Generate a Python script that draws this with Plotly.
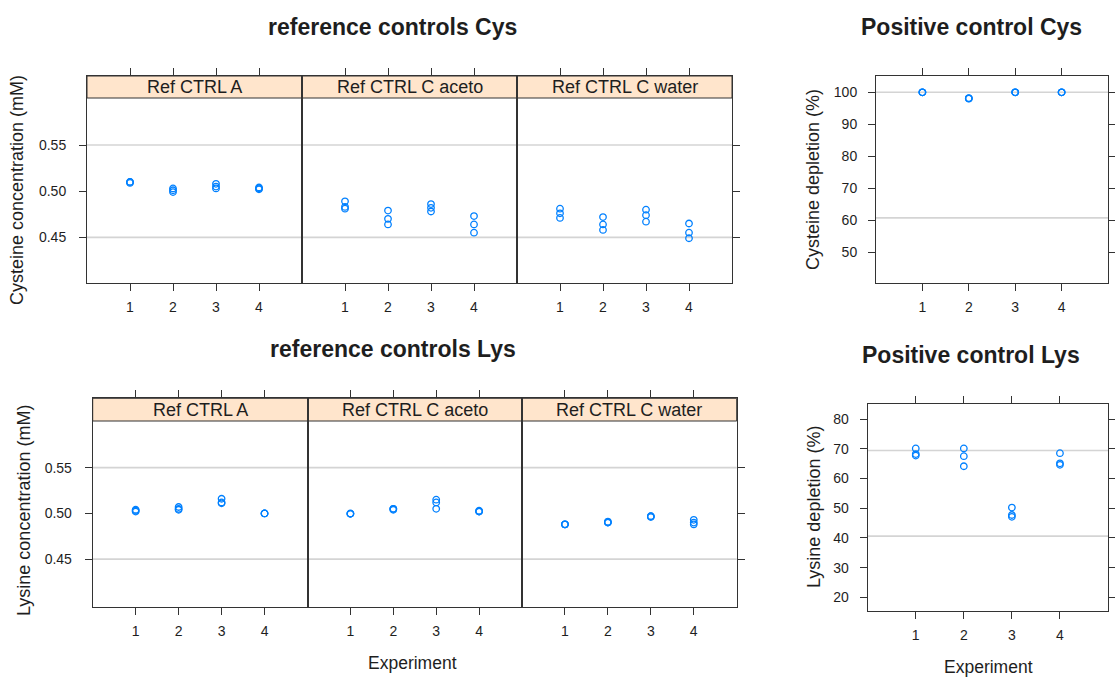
import plotly.graph_objects as go

W, H = 1115, 677

# ---------------- data ----------------
experiments = [1, 1, 1, 2, 2, 2, 3, 3, 3, 4, 4, 4]
exp_ticks = [1, 2, 3, 4]
strip_labels = ["Ref CTRL A", "Ref CTRL C aceto", "Ref CTRL C water"]

cys_ref_a = [0.510, 0.509, 0.510, 0.503, 0.501, 0.499, 0.508, 0.505, 0.503, 0.504, 0.502, 0.503]
cys_ref_aceto = [0.489, 0.483, 0.481, 0.479, 0.470, 0.464, 0.486, 0.482, 0.478, 0.473, 0.464, 0.455]
cys_ref_water = [0.481, 0.476, 0.471, 0.472, 0.464, 0.458, 0.480, 0.474, 0.467, 0.465, 0.455, 0.449]

lys_ref_a = [0.504, 0.502, 0.503, 0.507, 0.505, 0.504, 0.516, 0.512, 0.511, 0.500, 0.500, 0.500]
lys_ref_aceto = [0.4995, 0.4995, 0.500, 0.505, 0.504, 0.505, 0.515, 0.512, 0.505, 0.502, 0.502, 0.503]
lys_ref_water = [0.488, 0.488, 0.488, 0.490, 0.491, 0.490, 0.497, 0.496, 0.497, 0.493, 0.490, 0.488]

cys_pos = [100.0, 100.0, 100.0, 98.2, 98.0, 98.1, 100.0, 100.0, 100.0, 100.0, 100.0, 100.0]
lys_pos = [70.1, 68.2, 67.7, 70.1, 67.5, 64.1, 50.2, 47.7, 47.1, 68.5, 65.1, 64.6]

conc_ticks = [0.45, 0.50, 0.55]
conc_tick_text = ["0.45", "0.50", "0.55"]
cys_dep_ticks = [50, 60, 70, 80, 90, 100]
lys_dep_ticks = [20, 30, 40, 50, 60, 70, 80]

conc_limits = [0.45, 0.55]
cys_pos_limits = [60.7, 100]
lys_pos_limits = [40.6, 69.4]

# ---------------- style ----------------
FONT = "Liberation Sans, Arial, sans-serif"
TXT = "#1e1e1e"
LINE = "#333333"
POINT = "#0080ff"
STRIP = "#ffe5cc"
REF = "#d4d4d4"
TICKSIZE = 14

fig = go.Figure()
layout_axes = {}
shapes = []
annotations = []
counter = [0]


def px_x(v):
    return v / W


def px_y(v):
    return 1 - v / H


def add_panel(x0, x1, y0, y1, values, yrange, yticks, yticktext, yside,
              ref_lines, strip=None, strip_h=0):
    counter[0] += 1
    i = counter[0]
    sfx = "" if i == 1 else str(i)
    lo, hi = yrange
    hi_ext = hi + (hi - lo) * strip_h / (y1 - y0)
    top = y0 - strip_h

    xa = dict(domain=[px_x(x0), px_x(x1)], range=[0, 5], tickvals=exp_ticks,
              ticks="outside", ticklen=7, tickwidth=1, tickcolor=LINE,
              showline=True, linecolor=LINE, linewidth=1, mirror="ticks",
              showgrid=False, zeroline=False, anchor="y" + sfx,
              tickfont=dict(family=FONT, size=TICKSIZE, color=TXT),
              ticklabelstandoff=4)
    ya = dict(domain=[px_y(y1), px_y(top)], range=[lo, hi_ext],
              tickvals=yticks, ticktext=yticktext,
              showline=True, linecolor=LINE, linewidth=1,
              showgrid=False, zeroline=False, anchor="x" + sfx,
              tickfont=dict(family=FONT, size=TICKSIZE, color=TXT),
              ticklen=7, tickwidth=1, tickcolor=LINE)
    if yside == "left":
        ya.update(ticks="outside", mirror=True, side="left", ticklabelstandoff=10)
    elif yside == "right":
        ya.update(ticks="outside", mirror=True, side="right", showticklabels=False)
    elif yside == "both":
        ya.update(ticks="outside", mirror="ticks", side="left", ticklabelstandoff=8)
    else:
        ya.update(ticks="", mirror=True, showticklabels=False)

    layout_axes["xaxis" + sfx] = xa
    layout_axes["yaxis" + sfx] = ya

    for v in ref_lines:
        shapes.append(dict(type="line", xref="x" + sfx + " domain", yref="y" + sfx,
                           x0=0, x1=1, y0=v, y1=v, layer="below",
                           line=dict(color=REF, width=1.6)))
    if strip is not None:
        shapes.append(dict(type="rect", xref="paper", yref="paper",
                           x0=px_x(x0), x1=px_x(x1), y0=px_y(y0), y1=px_y(top),
                           fillcolor=STRIP, line=dict(color=LINE, width=1),
                           layer="below"))
        annotations.append(dict(text=strip, xref="paper", yref="paper",
                                x=px_x((x0 + x1) / 2), y=px_y((y0 + top) / 2),
                                xanchor="center", yanchor="middle", showarrow=False,
                                font=dict(family=FONT, size=18, color=TXT)))

    fig.add_trace(go.Scatter(x=experiments, y=values, mode="markers",
                             xaxis="x" + sfx, yaxis="y" + sfx, showlegend=False,
                             marker=dict(symbol="circle-open", size=6.5, color=POINT,
                                         line=dict(width=1.3, color=POINT))))


def text(t, x, y, size, bold=False, angle=0):
    annotations.append(dict(text=("<b>%s</b>" % t) if bold else t,
                            xref="paper", yref="paper", x=px_x(x), y=px_y(y),
                            xanchor="center", yanchor="middle", showarrow=False,
                            textangle=angle,
                            font=dict(family=FONT, size=size, color=TXT)))


# ---- top row: cysteine reference controls ----
cys_series = [cys_ref_a, cys_ref_aceto, cys_ref_water]
top_x = [87, 302, 517, 732]
for k in range(3):
    side = "left" if k == 0 else ("right" if k == 2 else "none")
    add_panel(top_x[k], top_x[k + 1], 98, 283, cys_series[k], [0.4005, 0.601],
              conc_ticks, conc_tick_text, side, conc_limits,
              strip=strip_labels[k], strip_h=22)

# ---- top right: cysteine positive control ----
add_panel(876, 1108, 75.7, 282.7, cys_pos, [40.4, 105.2],
          cys_dep_ticks, [str(v) for v in cys_dep_ticks], "both", cys_pos_limits)

# ---- bottom row: lysine reference controls ----
lys_series = [lys_ref_a, lys_ref_aceto, lys_ref_water]
bot_x = [92.7, 307.5, 522, 736.7]
for k in range(3):
    side = "left" if k == 0 else ("right" if k == 2 else "none")
    add_panel(bot_x[k], bot_x[k + 1], 421, 606.7, lys_series[k], [0.398, 0.601],
              conc_ticks, conc_tick_text, side, conc_limits,
              strip=strip_labels[k], strip_h=22.7)

# ---- bottom right: lysine positive control ----
add_panel(867.7, 1108, 404, 611, lys_pos, [15.4, 85.05],
          lys_dep_ticks, [str(v) for v in lys_dep_ticks], "both", lys_pos_limits)

# ---- titles and axis labels ----
text("reference controls Cys", 392, 27, 23, bold=True)
text("Positive control Cys", 971, 27, 23, bold=True)
text("reference controls Lys", 393, 349, 23, bold=True)
text("Positive control Lys", 971, 355, 23, bold=True)
text("Cysteine concentration (mM)", 17, 190, 18, angle=-90)
text("Lysine concentration (mM)", 24, 511, 18, angle=-90)
text("Cysteine depletion (%)", 813, 180, 18, angle=-90)
text("Lysine depletion (%)", 814, 507, 18, angle=-90)
text("Experiment", 412, 663, 17.5)
text("Experiment", 988, 667, 17.5)

fig.update_layout(width=W, height=H, autosize=False,
                  margin=dict(l=0, r=0, t=0, b=0),
                  paper_bgcolor="white", plot_bgcolor="white",
                  shapes=shapes, annotations=annotations, **layout_axes)

fig.write_html("out.html", config={"displayModeBar": False},
               post_script="document.body.style.margin='0px';document.body.style.overflow='hidden';")
